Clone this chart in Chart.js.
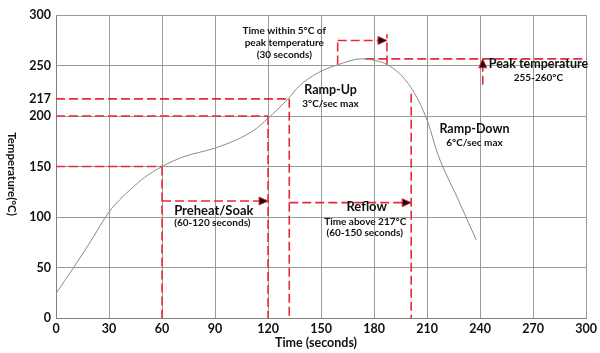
<!DOCTYPE html>
<html>
<head>
<meta charset="utf-8">
<script src="https://cdn.jsdelivr.net/npm/chart.js@4.4.1/dist/chart.umd.min.js"></script>
<style>
  body { margin: 0; background: #fff; }
  #wrap { width: 600px; height: 353px; }
</style>
</head>
<body>
<div id="wrap"><canvas id="profileChart"></canvas></div>
<script>
// reflow profile
const profileTime = [0, 10, 20, 30, 36, 42, 50, 60, 72.5, 89.6, 102.8, 112.1, 119.7, 131.4, 137.7, 148.5, 159.4, 173, 180.6, 187.6, 197.4, 204.8, 210.4, 216.1, 227.4, 237.8];
const profileTemp = [24.3, 50, 77, 105, 117, 127, 139, 150, 159.8, 168, 177, 186, 197.3, 217.2, 229.8, 243, 250.7, 256.6, 254.9, 250.7, 236.4, 216.5, 194, 162, 118, 77.3];

const yTicks = [0, 50, 100, 150, 200, 217, 250, 300];

// dashed guides: [x1, y1, x2, y2]
const guideLines = [
    [0, 150, 60, 150], [60, 150, 60, 0],
    [0, 200, 120, 200], [120, 200, 120, 0],
    [0, 217, 132, 217], [132, 217, 132, 0],
    [201, 222, 201, 0],
    [159.4, 251, 159.4, 277], [187.3, 251, 187.3, 281],
    [175, 256.6, 300, 256.6]
];
// dashed arrows, head at the second point
const arrows = [
    [60, 115.8, 120, 115.8],
    [132, 114.2, 201, 114.2],
    [159.4, 274.8, 187.3, 274.8],
    [241.5, 231, 241.5, 256.6]
];

const notes = [
    { text: 'Time within 5°C of', x: 129.2, y: 284.1, size: 10 },
    { text: 'peak temperature', x: 129.2, y: 272.2, size: 10 },
    { text: '(30 seconds)', x: 129.2, y: 260.3, size: 10 },
    { text: 'Ramp-Up', x: 155.4, y: 225.6, size: 12.5 },
    { text: '3°C/sec max', x: 155.3, y: 212.4, size: 10 },
    { text: 'Peak temperature', x: 273, y: 252, size: 12.5 },
    { text: '255-260°C', x: 273, y: 237.9, size: 10 },
    { text: 'Ramp-Down', x: 236.8, y: 187.6, size: 12.5 },
    { text: '6°C/sec max', x: 236.8, y: 173.4, size: 10 },
    { text: 'Preheat/Soak', x: 89.3, y: 106.5, size: 13 },
    { text: '(60-120 seconds)', x: 88.5, y: 94, size: 10 },
    { text: 'Reflow', x: 175.8, y: 109.9, size: 13 },
    { text: 'Time above 217°C', x: 175, y: 95, size: 10 },
    { text: '(60-150 seconds)', x: 174.7, y: 84, size: 10 }
];

const RED = '#e8283c';
const FONT = 'Lato, "DejaVu Sans", sans-serif';

const segs = guideLines.concat(arrows);
const datasets = [{
    data: profileTime.map((t, i) => ({ x: t, y: profileTemp[i] })),
    borderColor: '#8a8a8a',
    borderWidth: 1,
    pointRadius: 0,
    cubicInterpolationMode: 'monotone'
}];
segs.forEach(s => {
    datasets.push({
        data: [{ x: s[0], y: s[1] }, { x: s[2], y: s[3] }],
        borderColor: RED,
        borderWidth: 1.6,
        borderDash: [9, 4],
        pointRadius: 0
    });
});

const annotate = {
    id: 'annotate',
    afterDatasetsDraw(chart) {
        const ctx = chart.ctx, xs = chart.scales.x, ys = chart.scales.y;
        ctx.save();
        // arrow heads
        arrows.forEach(a => {
            const x1 = xs.getPixelForValue(a[0]), y1 = ys.getPixelForValue(a[1]);
            const x2 = xs.getPixelForValue(a[2]), y2 = ys.getPixelForValue(a[3]);
            ctx.save();
            ctx.translate(x2, y2);
            ctx.rotate(Math.atan2(y2 - y1, x2 - x1));
            ctx.beginPath();
            ctx.moveTo(0, 0);
            ctx.lineTo(-9, -4);
            ctx.lineTo(-9, 4);
            ctx.closePath();
            ctx.fillStyle = '#111';
            ctx.fill();
            ctx.strokeStyle = RED;
            ctx.lineWidth = 1;
            ctx.stroke();
            ctx.restore();
        });
        // labels
        ctx.fillStyle = '#111';
        ctx.textAlign = 'center';
        ctx.textBaseline = 'middle';
        notes.forEach(n => {
            ctx.font = 'bold ' + n.size + 'px ' + FONT;
            ctx.fillText(n.text, xs.getPixelForValue(n.x), ys.getPixelForValue(n.y));
        });
        // axis titles
        ctx.font = 'bold 12.5px ' + FONT;
        ctx.fillText('Time (seconds)', 316, 343);
        ctx.translate(12, 174);
        ctx.rotate(Math.PI / 2);
        ctx.font = 'bold 11.5px ' + FONT;
        ctx.fillText('Temperature(°C)', 0, 0);
        ctx.restore();
    }
};

new Chart(document.getElementById('profileChart'), {
    type: 'line',
    data: { datasets: datasets },
    plugins: [annotate],
    options: {
        responsive: true,
        maintainAspectRatio: false,
        animation: false,
        layout: { padding: { top: 15, right: 10, left: 0, bottom: 0 } },
        plugins: { legend: { display: false }, tooltip: { enabled: false } },
        scales: {
            x: {
                type: 'linear',
                min: 0,
                max: 300,
                afterFit: s => { s.height = 35; },
                ticks: { stepSize: 30, color: '#111', padding: 3, font: { family: FONT, size: 12.5, weight: 'bold' } },
                grid: { color: '#9a9a9a', drawTicks: false },
                border: { color: '#808080' }
            },
            y: {
                min: 0,
                max: 300,
                afterFit: s => { s.width = 56; },
                afterBuildTicks: s => { s.ticks = yTicks.map(v => ({ value: v })); },
                ticks: { color: '#111', padding: 5, font: { family: FONT, size: 12.5, weight: 'bold' } },
                grid: {
                    color: c => (c.tick && c.tick.value === 217) ? 'rgba(0,0,0,0)' : '#9a9a9a',
                    drawTicks: false
                },
                border: { color: '#808080' }
            }
        }
    }
});
</script>
</body>
</html>
